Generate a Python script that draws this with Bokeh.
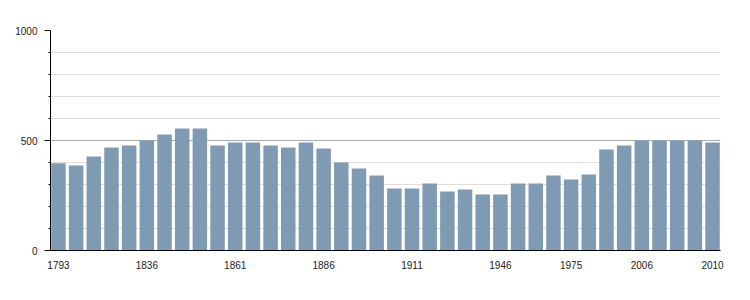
from bokeh.plotting import figure
from bokeh.models import ColumnDataSource, FixedTicker, Range1d
from bokeh.embed import file_html
from bokeh.resources import INLINE

years = [1793, 1800, 1806, 1821, 1831, 1836, 1841, 1846, 1851, 1856,
         1861, 1866, 1872, 1876, 1881, 1886, 1891, 1896, 1901, 1906,
         1911, 1921, 1926, 1931, 1936, 1946, 1954, 1962, 1968, 1975,
         1982, 1990, 1999, 2006, 2007, 2008, 2009, 2010]
population = [397, 386, 427, 468, 477, 500, 527, 555, 555, 477,
              491, 491, 477, 468, 491, 464, 400, 373, 341, 282,
              282, 305, 268, 277, 255, 255, 305, 305, 341, 323,
              345, 459, 477, 500, 500, 500, 500, 491]
label_years = [1793, 1836, 1861, 1886, 1911, 1946, 1975, 2006, 2010]
y_major = [0, 500, 1000]
y_minor = [100, 200, 300, 400, 600, 700, 800, 900]

idx = list(range(len(years)))
src = ColumnDataSource(dict(x=idx, pop=population))

p = figure(width=750, height=300, output_backend="svg", toolbar_location=None,
           x_range=Range1d(-0.45, len(years) - 0.55), y_range=Range1d(0, 1000),
           min_border_left=50, min_border_right=30, min_border_top=30,
           min_border_bottom=50)
p.outline_line_color = None
p.background_fill_color = "white"
p.border_fill_color = "white"

p.vbar(x="x", top="pop", width=0.82, bottom=0, source=src,
       fill_color="#7F9BB4", line_color=None)

ticks = [years.index(y) for y in label_years]
p.xaxis.ticker = FixedTicker(ticks=ticks)
p.xaxis.major_label_overrides = {i: str(years[i]) for i in ticks}
p.xaxis.major_tick_line_color = None
p.xaxis.minor_tick_line_color = None
p.xaxis.axis_line_color = "black"
p.xaxis.major_label_standoff = 4
p.xaxis.major_label_text_font = "Liberation Sans"
p.xaxis.major_label_text_font_size = "10px"
p.xaxis.major_label_text_color = "#222222"
p.xgrid.grid_line_color = None

p.yaxis.ticker = FixedTicker(ticks=y_major, minor_ticks=y_minor)
p.yaxis.major_tick_out = 6
p.yaxis.major_tick_in = 0
p.yaxis.minor_tick_out = 2
p.yaxis.minor_tick_in = 0
p.yaxis.axis_line_color = "black"
p.yaxis.major_tick_line_color = "black"
p.yaxis.minor_tick_line_color = "black"
p.yaxis.major_label_standoff = 7
p.yaxis.major_label_text_font = "Liberation Sans"
p.yaxis.major_label_text_font_size = "10px"
p.yaxis.major_label_text_color = "#222222"
p.ygrid.grid_line_color = "#aaaaaa"
p.ygrid.minor_grid_line_color = "#dddddd"

open("out.html", "w").write(file_html(p, INLINE))
